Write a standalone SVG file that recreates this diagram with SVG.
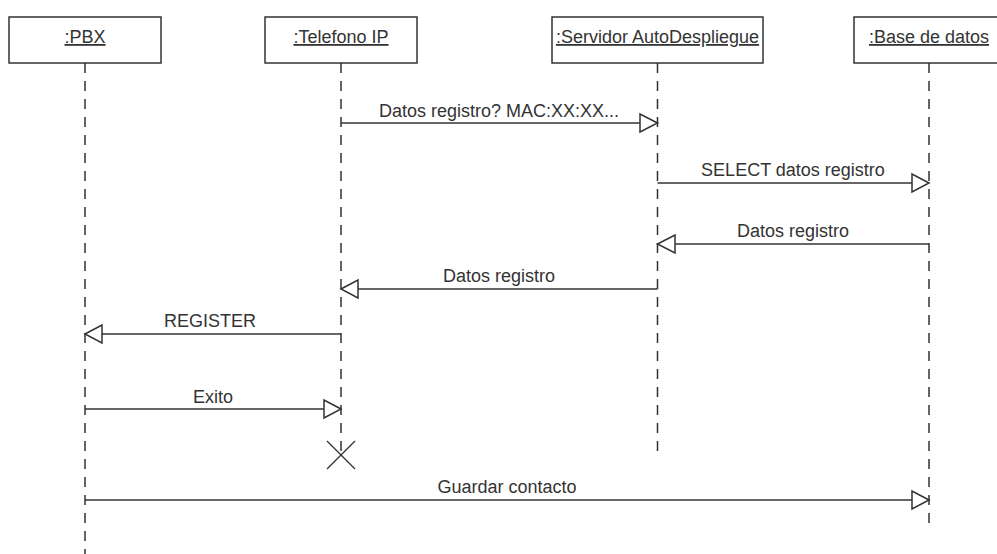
<svg xmlns="http://www.w3.org/2000/svg" width="997" height="554" viewBox="0 0 997 554">
  <style>
    .box { fill: #ffffff; stroke: #333333; stroke-width: 1.5; }
    .name { font-family: "Liberation Sans", Arial, sans-serif; font-size: 18px; fill: #333333; text-anchor: middle; text-decoration: underline; }
    .life { stroke: #333333; stroke-width: 1.5; stroke-dasharray: 10 8; fill: none; }
    .msg { stroke: #333333; stroke-width: 1.5; fill: none; }
    .head { fill: #ffffff; stroke: #333333; stroke-width: 1.5; stroke-linejoin: miter; }
    .lbl { font-family: "Liberation Sans", Arial, sans-serif; font-size: 18px; fill: #333333; text-anchor: middle; }
    .kill { stroke: #333333; stroke-width: 1.2; }
  </style>

  <!-- participants with their lifelines -->
  <g id="pbx">
    <line class="life" x1="85" y1="63" x2="85" y2="560"/>
    <rect class="box" x="9" y="17" width="152" height="46"/>
    <text class="name" x="85" y="43">:PBX</text>
  </g>
  <g id="telefono-ip">
    <line class="life" x1="341" y1="63" x2="341" y2="455"/>
    <rect class="box" x="265" y="17" width="152" height="46"/>
    <text class="name" x="341" y="43">:Telefono IP</text>
    <line class="kill" x1="327" y1="441" x2="355" y2="469"/>
    <line class="kill" x1="355" y1="441" x2="327" y2="469"/>
  </g>
  <g id="servidor-autodespliegue">
    <line class="life" x1="657.5" y1="63" x2="657.5" y2="453"/>
    <rect class="box" x="552" y="17" width="211" height="46"/>
    <text class="name" x="657.5" y="43">:Servidor AutoDespliegue</text>
  </g>
  <g id="base-de-datos">
    <line class="life" x1="929" y1="63" x2="929" y2="525"/>
    <rect class="box" x="854" y="17" width="152" height="46"/>
    <text class="name" x="929" y="43">:Base de datos</text>
  </g>

  <!-- messages -->
  <g id="messages">
    <line class="msg" x1="341" y1="123" x2="640" y2="123"/>
    <path class="head" d="M657.5,123 L640,114 L640,132 Z"/>
    <text class="lbl" x="499" y="116.5">Datos registro? MAC:XX:XX...</text>

    <line class="msg" x1="657.5" y1="183" x2="912" y2="183"/>
    <path class="head" d="M929,183 L912,174 L912,192 Z"/>
    <text class="lbl" x="793" y="176">SELECT datos registro</text>

    <line class="msg" x1="929" y1="244" x2="675" y2="244"/>
    <path class="head" d="M657.5,244 L675,235 L675,253 Z"/>
    <text class="lbl" x="793" y="237">Datos registro</text>

    <line class="msg" x1="657.5" y1="289" x2="358" y2="289"/>
    <path class="head" d="M341,289 L358,280 L358,298 Z"/>
    <text class="lbl" x="499" y="282">Datos registro</text>

    <line class="msg" x1="341" y1="334" x2="102" y2="334"/>
    <path class="head" d="M85,334 L102,325 L102,343 Z"/>
    <text class="lbl" x="210" y="327">REGISTER</text>

    <line class="msg" x1="85" y1="409" x2="324" y2="409"/>
    <path class="head" d="M341,409 L324,400 L324,418 Z"/>
    <text class="lbl" x="213" y="402.5">Exito</text>

    <line class="msg" x1="85" y1="500" x2="912" y2="500"/>
    <path class="head" d="M929,500 L912,491 L912,509 Z"/>
    <text class="lbl" x="507" y="493">Guardar contacto</text>
  </g>
</svg>
